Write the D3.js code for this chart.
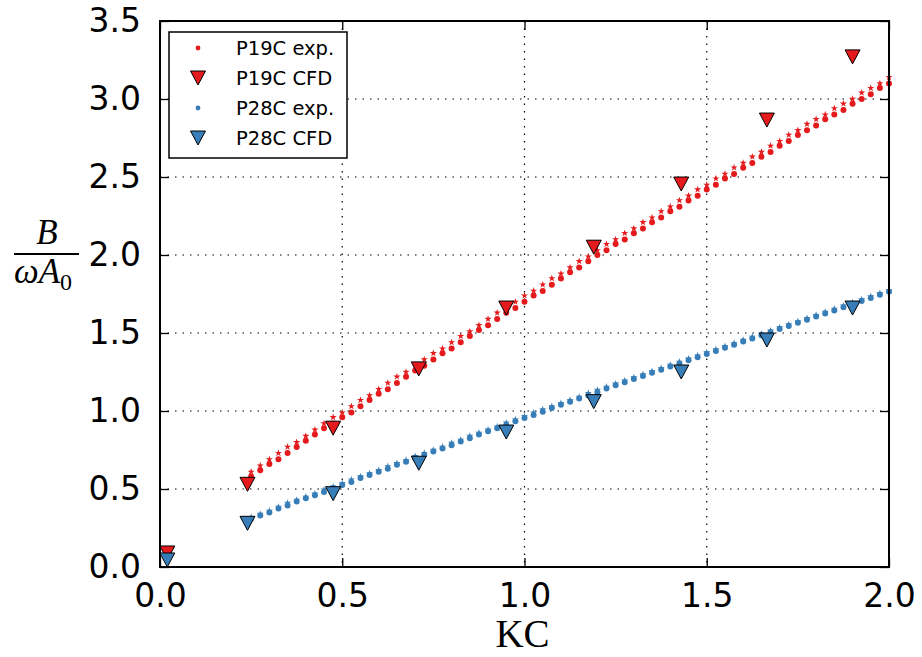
<!DOCTYPE html>
<html>
<head>
<meta charset="utf-8">
<script src="https://cdn.jsdelivr.net/npm/d3@7"></script>
<style>
  body { margin: 0; background: #fff; }
  svg { display: block; }
  .tick text { font-family: "DejaVu Sans", sans-serif; }
</style>
</head>
<body>
<div id="chart"></div>
<script>
// experimental KC values (shared by both branches of each series)
const kcExp = [0.25, 0.275, 0.3, 0.325, 0.35, 0.375, 0.4, 0.425, 0.45, 0.475,
  0.5, 0.525, 0.55, 0.575, 0.6, 0.625, 0.65, 0.675, 0.7, 0.725,
  0.75, 0.775, 0.8, 0.825, 0.85, 0.875, 0.9, 0.925, 0.95, 0.975,
  1.0, 1.025, 1.05, 1.075, 1.1, 1.125, 1.15, 1.175, 1.2, 1.225,
  1.25, 1.275, 1.3, 1.325, 1.35, 1.375, 1.4, 1.425, 1.45, 1.475,
  1.5, 1.525, 1.55, 1.575, 1.6, 1.625, 1.65, 1.675, 1.7, 1.725,
  1.75, 1.775, 1.8, 1.825, 1.85, 1.875, 1.9, 1.925, 1.95, 1.975, 2.0];

// P19C experiment, main run (large dots) and repeat run (small marks)
const p19Exp = [0.58, 0.62, 0.66, 0.69, 0.73, 0.77, 0.81, 0.85, 0.89, 0.92,
  0.96, 0.99, 1.03, 1.07, 1.11, 1.14, 1.18, 1.22, 1.26, 1.29,
  1.33, 1.37, 1.40, 1.44, 1.48, 1.52, 1.55, 1.59, 1.63, 1.66,
  1.70, 1.74, 1.77, 1.81, 1.85, 1.89, 1.92, 1.96, 2.00, 2.03,
  2.07, 2.10, 2.14, 2.17, 2.21, 2.24, 2.28, 2.31, 2.35, 2.38,
  2.42, 2.45, 2.49, 2.52, 2.56, 2.59, 2.63, 2.66, 2.70, 2.73,
  2.77, 2.80, 2.83, 2.87, 2.90, 2.93, 2.97, 3.00, 3.03, 3.07, 3.10];
const p19ExpB = [0.61, 0.65, 0.69, 0.73, 0.77, 0.80, 0.84, 0.88, 0.92, 0.96,
  0.99, 1.03, 1.07, 1.10, 1.14, 1.18, 1.22, 1.25, 1.29, 1.33,
  1.37, 1.40, 1.44, 1.48, 1.51, 1.55, 1.59, 1.63, 1.66, 1.70,
  1.74, 1.77, 1.81, 1.85, 1.88, 1.92, 1.96, 1.99, 2.03, 2.07,
  2.10, 2.14, 2.17, 2.21, 2.24, 2.28, 2.31, 2.35, 2.38, 2.42,
  2.45, 2.49, 2.52, 2.56, 2.59, 2.63, 2.66, 2.70, 2.73, 2.77,
  2.80, 2.84, 2.87, 2.90, 2.94, 2.97, 3.00, 3.04, 3.07, 3.10, 3.14];

// P28C experiment
const p28Exp = [0.31, 0.33, 0.35, 0.375, 0.395, 0.42, 0.44, 0.46, 0.48, 0.505,
  0.525, 0.545, 0.57, 0.59, 0.61, 0.63, 0.655, 0.675, 0.695, 0.72,
  0.74, 0.76, 0.78, 0.805, 0.825, 0.85, 0.87, 0.89, 0.91, 0.935,
  0.955, 0.975, 0.995, 1.02, 1.04, 1.06, 1.08, 1.10, 1.12, 1.145,
  1.165, 1.185, 1.205, 1.225, 1.245, 1.265, 1.285, 1.305, 1.325, 1.345,
  1.365, 1.385, 1.405, 1.425, 1.445, 1.465, 1.485, 1.505, 1.525, 1.545,
  1.565, 1.585, 1.605, 1.625, 1.645, 1.665, 1.685, 1.705, 1.725, 1.745, 1.765];
const p28ExpB = [0.32, 0.34, 0.36, 0.385, 0.41, 0.43, 0.45, 0.47, 0.495, 0.515,
  0.535, 0.56, 0.58, 0.60, 0.62, 0.645, 0.665, 0.685, 0.71, 0.73,
  0.75, 0.77, 0.795, 0.815, 0.84, 0.86, 0.88, 0.90, 0.925, 0.945,
  0.965, 0.99, 1.01, 1.03, 1.05, 1.07, 1.09, 1.115, 1.135, 1.155,
  1.175, 1.195, 1.215, 1.235, 1.255, 1.275, 1.295, 1.315, 1.335, 1.355,
  1.375, 1.395, 1.415, 1.435, 1.455, 1.475, 1.495, 1.515, 1.535, 1.555,
  1.575, 1.595, 1.615, 1.635, 1.655, 1.675, 1.695, 1.715, 1.735, 1.755, 1.775];

// CFD results
const kcCfd = [0.02, 0.24, 0.475, 0.71, 0.95, 1.19, 1.43, 1.665, 1.90];
const p19Cfd = [0.09, 0.53, 0.89, 1.27, 1.66, 2.05, 2.455, 2.865, 3.27];
const p28Cfd = [0.045, 0.28, 0.47, 0.665, 0.865, 1.06, 1.25, 1.455, 1.66];

const xTicks = [0, 0.5, 1.0, 1.5, 2.0];
const yTicks = [0, 0.5, 1.0, 1.5, 2.0, 2.5, 3.0, 3.5];

const red = '#e41a1c';
const blue = '#377eb8';

const width = 922, height = 657;
const margin = { top: 21, right: 33, bottom: 90, left: 160 };
const innerW = width - margin.left - margin.right;
const innerH = height - margin.top - margin.bottom;

const x = d3.scaleLinear().domain([0, 2]).range([0, innerW]);
const y = d3.scaleLinear().domain([0, 3.5]).range([innerH, 0]);

const svg = d3.select('#chart').append('svg')
    .attr('width', width)
    .attr('height', height);

const g = svg.append('g')
    .attr('transform', 'translate(' + margin.left + ',' + margin.top + ')');

// dotted grid
g.append('g').selectAll('line')
    .data(xTicks.slice(1, -1))
    .join('line')
    .attr('x1', d => x(d)).attr('x2', d => x(d))
    .attr('y1', 0).attr('y2', innerH)
    .attr('stroke', '#000').attr('stroke-width', 1.2)
    .attr('stroke-dasharray', '1.5,6');
g.append('g').selectAll('line')
    .data(yTicks.slice(1, -1))
    .join('line')
    .attr('y1', d => y(d)).attr('y2', d => y(d))
    .attr('x1', 0).attr('x2', innerW)
    .attr('stroke', '#000').attr('stroke-width', 1.2)
    .attr('stroke-dasharray', '1.5,6');

const tri = 'M-7.5,-7L7.5,-7L0,7Z';
const star = d3.symbol(d3.symbolStar, 16)();

function drawExp(ys, ysB, color) {
    g.append('g').selectAll('path')
        .data(kcExp.map((k, i) => [k, ysB[i]]))
        .join('path')
        .attr('d', star)
        .attr('transform', d => 'translate(' + x(d[0]) + ',' + y(d[1]) + ')')
        .attr('fill', color);
    g.append('g').selectAll('circle')
        .data(kcExp.map((k, i) => [k, ys[i]]))
        .join('circle')
        .attr('cx', d => x(d[0]))
        .attr('cy', d => y(d[1]))
        .attr('r', 3)
        .attr('fill', color);
}

function drawCfd(ys, color) {
    g.append('g').selectAll('path')
        .data(kcCfd.map((k, i) => [k, ys[i]]))
        .join('path')
        .attr('d', tri)
        .attr('transform', d => 'translate(' + x(d[0]) + ',' + y(d[1]) + ')')
        .attr('fill', color)
        .attr('stroke', '#000')
        .attr('stroke-width', 1);
}

drawExp(p19Exp, p19ExpB, red);
drawCfd(p19Cfd, red);
drawExp(p28Exp, p28ExpB, blue);
drawCfd(p28Cfd, blue);

// axes, ticks pointing inwards on all four sides
const fs = 33;
const xAxis = g.append('g')
    .attr('transform', 'translate(0,' + innerH + ')')
    .call(d3.axisBottom(x).tickValues(xTicks).tickFormat(d3.format('.1f'))
        .tickSizeInner(-9).tickSizeOuter(0).tickPadding(17));
xAxis.selectAll('text').attr('font-size', fs).attr('fill', '#000');

const yAxis = g.append('g')
    .call(d3.axisLeft(y).tickValues(yTicks).tickFormat(d3.format('.1f'))
        .tickSizeInner(-9).tickSizeOuter(0).tickPadding(19));
yAxis.selectAll('text').attr('font-size', fs).attr('fill', '#000');

g.append('g')
    .call(d3.axisTop(x).tickValues(xTicks).tickFormat('')
        .tickSizeInner(-9).tickSizeOuter(0));
g.append('g')
    .attr('transform', 'translate(' + innerW + ',0)')
    .call(d3.axisRight(y).tickValues(yTicks).tickFormat('')
        .tickSizeInner(-9).tickSizeOuter(0));

g.selectAll('.domain').remove();
g.selectAll('.tick line').attr('stroke', '#000').attr('stroke-width', 1.3);

// frame
g.append('rect')
    .attr('width', innerW).attr('height', innerH)
    .attr('fill', 'none').attr('stroke', '#000').attr('stroke-width', 2);

// axis labels
svg.append('text')
    .attr('x', margin.left + innerW / 2 - 2)
    .attr('y', 647)
    .attr('text-anchor', 'middle')
    .attr('font-family', 'Liberation Serif, serif')
    .attr('font-size', 39)
    .text('KC');

const yl = svg.append('g').attr('font-family', 'Liberation Serif, serif');
yl.append('text')
    .attr('x', 47).attr('y', 244)
    .attr('text-anchor', 'middle')
    .attr('font-style', 'italic')
    .attr('font-size', 35)
    .text('B');
yl.append('line')
    .attr('x1', 14).attr('x2', 79)
    .attr('y1', 254).attr('y2', 254)
    .attr('stroke', '#000').attr('stroke-width', 2);
const den = yl.append('text')
    .attr('x', 43).attr('y', 283)
    .attr('text-anchor', 'middle')
    .attr('font-size', 35);
den.append('tspan').attr('font-style', 'italic').text('ωA');
den.append('tspan').attr('font-size', 24).attr('dy', 7).text('0');

// legend
const legendItems = [
    { label: 'P19C exp.', color: red, type: 'dot' },
    { label: 'P19C CFD', color: red, type: 'tri' },
    { label: 'P28C exp.', color: blue, type: 'dot' },
    { label: 'P28C CFD', color: blue, type: 'tri' }
];
const lg = svg.append('g').attr('transform', 'translate(169,32)');
lg.append('rect')
    .attr('width', 178).attr('height', 126)
    .attr('fill', '#fff').attr('stroke', '#000').attr('stroke-width', 1.5);
const li = lg.selectAll('g.item')
    .data(legendItems)
    .join('g')
    .attr('class', 'item')
    .attr('transform', (d, i) => 'translate(0,' + (16 + i * 30) + ')');
li.filter(d => d.type === 'dot').append('circle')
    .attr('cx', 29).attr('r', 2.4).attr('fill', d => d.color);
li.filter(d => d.type === 'tri').append('path')
    .attr('d', tri)
    .attr('transform', 'translate(29,0)')
    .attr('fill', d => d.color)
    .attr('stroke', '#000').attr('stroke-width', 1);
li.append('text')
    .attr('x', 67).attr('y', 7)
    .attr('font-family', 'DejaVu Sans, sans-serif')
    .attr('font-size', 19.5)
    .text(d => d.label);
</script>
</body>
</html>
